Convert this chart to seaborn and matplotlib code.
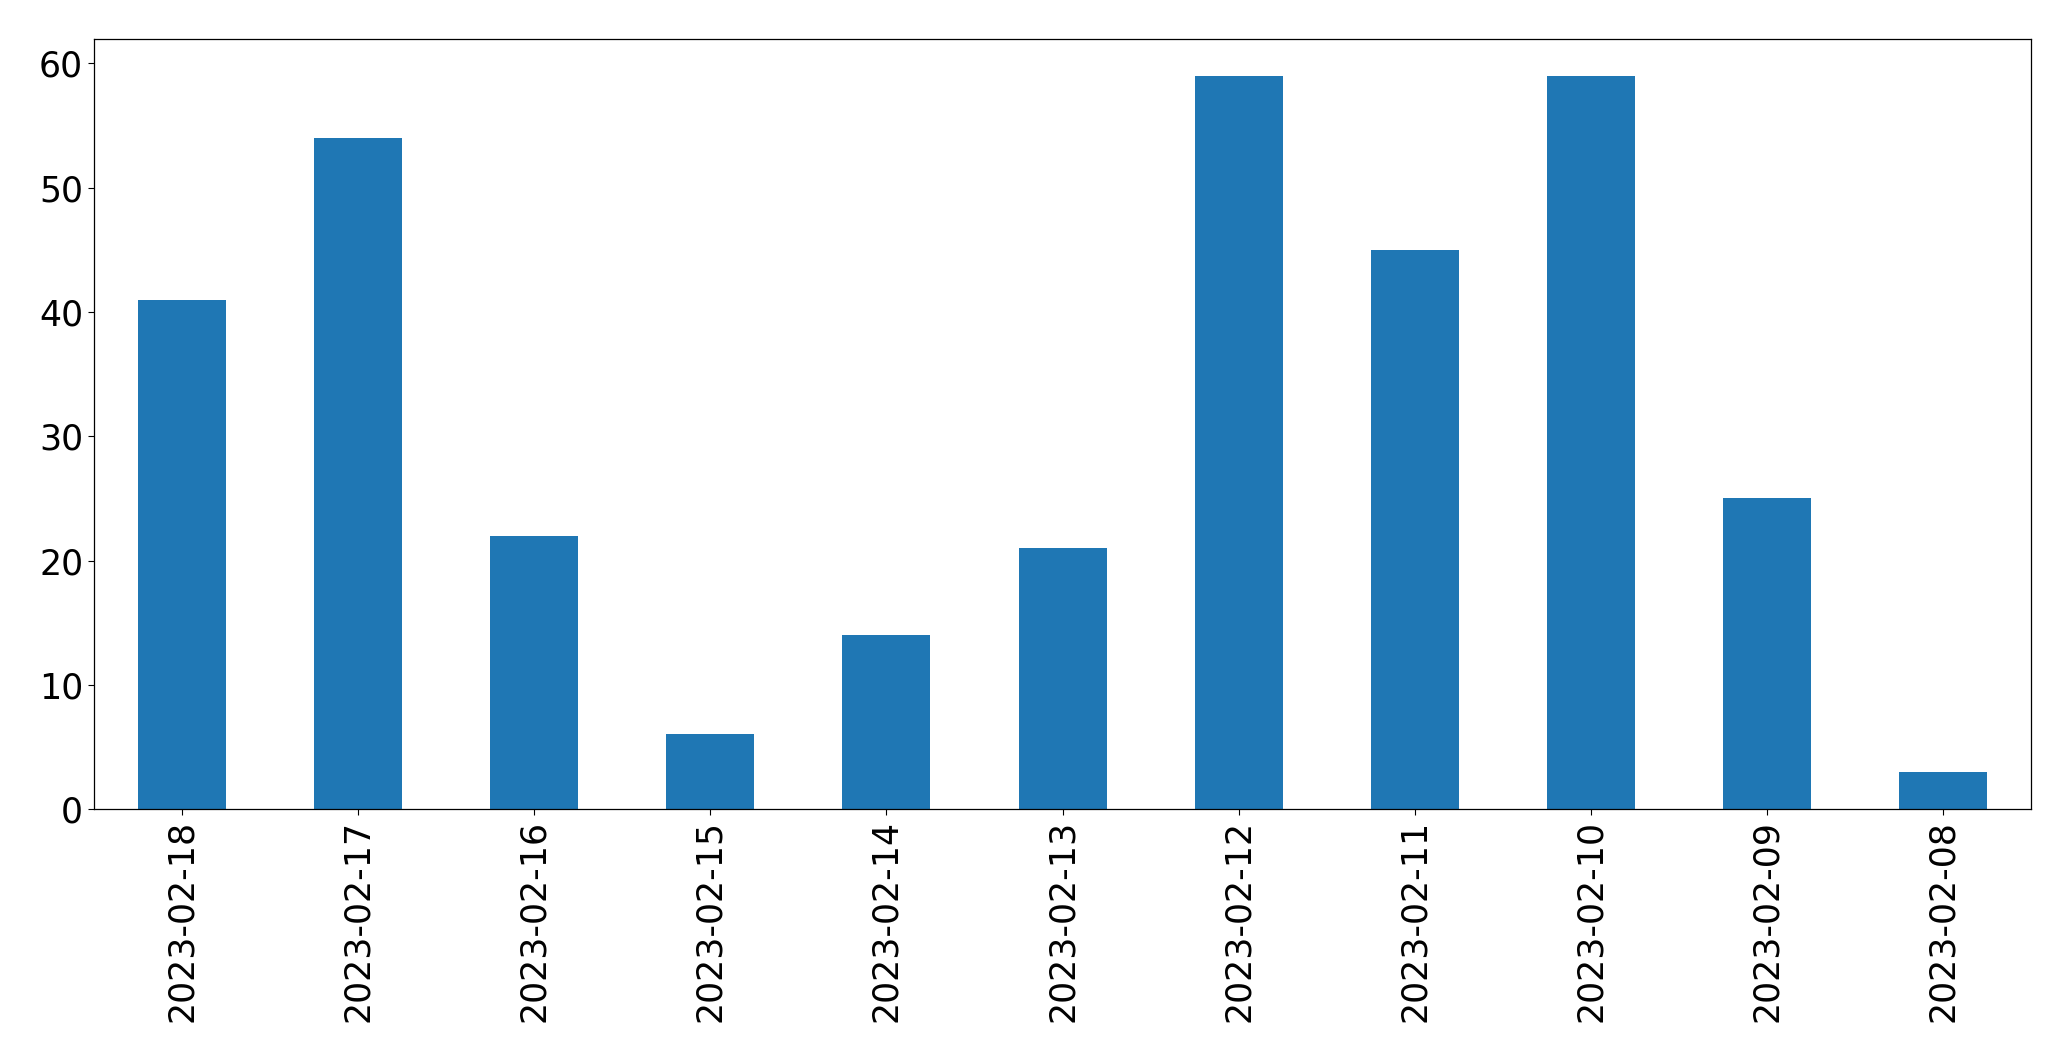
import matplotlib
matplotlib.use("Agg")
import matplotlib.pyplot as plt
import seaborn as sns
import pandas as pd

dates = ["2023-02-18", "2023-02-17", "2023-02-16", "2023-02-15", "2023-02-14",
         "2023-02-13", "2023-02-12", "2023-02-11", "2023-02-10", "2023-02-09",
         "2023-02-08"]
counts = [41, 54, 22, 6, 14, 21, 59, 45, 59, 25, 3]

df = pd.DataFrame({"date": dates, "count": counts})

fig = plt.figure(figsize=(20.71, 10.61), dpi=100)
ax = fig.add_axes([0.0454, 0.2375, 0.9353, 0.7255])
sns.barplot(data=df, x="date", y="count", order=dates, color="#1f77b4",
            saturation=1, width=0.5, ax=ax, edgecolor="none", linewidth=0)
ax.set_xlim(-0.5, len(dates) - 0.5)
ax.set_ylim(0, max(counts) * 1.05)
ax.set_xlabel("")
ax.set_ylabel("")
ax.tick_params(axis="both", labelsize=25, length=4.3, width=0.8)
ax.tick_params(axis="x", labelrotation=90)
for s in ax.spines.values():
    s.set_linewidth(0.9)
    s.set_visible(True)
fig.savefig("out.png", dpi=100)
